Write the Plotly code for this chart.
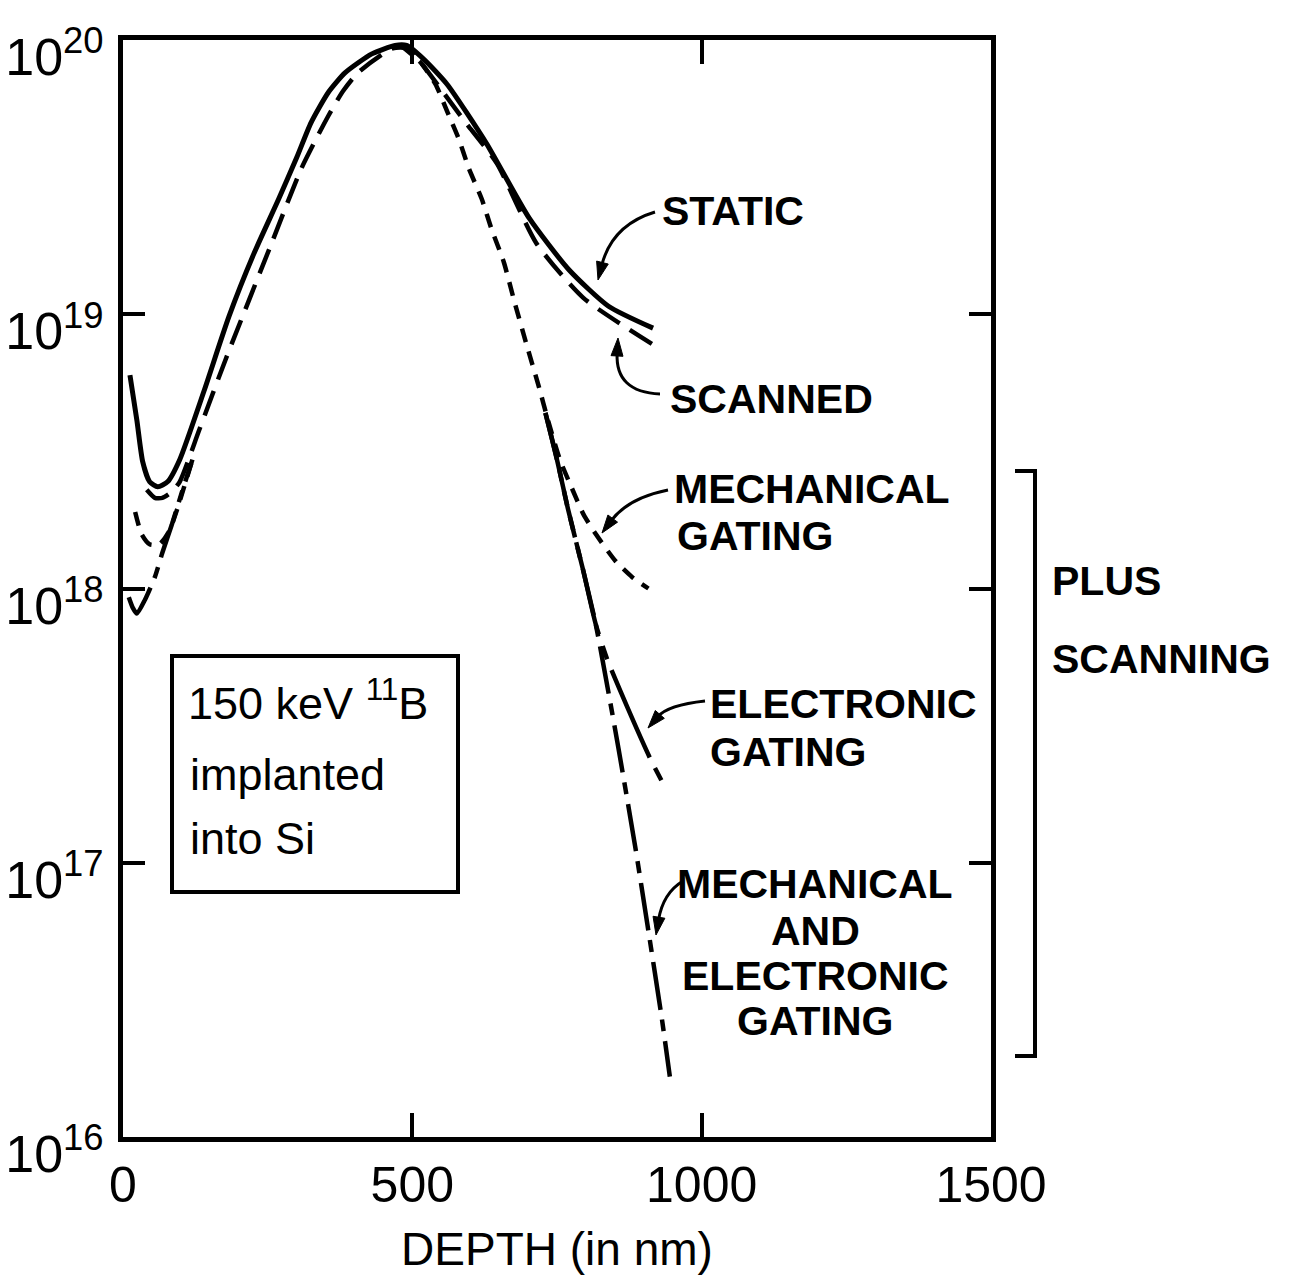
import math
import plotly.graph_objects as go

# Boron depth profiles (atoms/cm^3) for a 150 keV 11B implant into Si
static_depth = [12, 24, 34, 46, 60, 77, 98, 140, 183, 226, 269, 300, 325, 355, 384, 430, 470, 490, 520, 560, 628, 702,
                771, 839, 916]
static_conc = [6.0e18, 4.1e18, 2.9e18, 2.45e18, 2.35e18, 2.45e18, 2.95e18, 5.25e18, 9.8e18, 1.66e19, 2.63e19,
               3.72e19, 5.0e19, 6.45e19, 7.6e19, 8.9e19, 9.55e19, 9.55e19, 8.5e19, 6.9e19, 4.2e19, 2.24e19,
               1.45e19, 1.07e19, 8.9e18]

scanned_depth = [41, 55, 68, 83, 98, 132, 178, 257, 308, 354, 380, 406, 466, 491, 514, 589, 646, 714, 795, 914]
scanned_conc = [2.29e18, 2.14e18, 2.14e18, 2.24e18, 2.45e18, 3.8e18, 6.9e18, 1.82e19, 3.39e19, 5.25e19, 6.5e19,
                7.6e19, 9.33e19, 9.33e19, 8.3e19, 5.1e19, 3.55e19, 1.82e19, 1.15e19, 7.8e18]

# gated profiles: only the parts that separate from the scanned curve are drawn (None = hidden stretch)
mech_depth = [21, 32, 46, 63, 80, 92, 120, None,
              480, 514, 540, 560, 580, 598, 620, 637, 658, 676, 697, 717, 736, 755, 775, 796, 817, 851, 880, 908]
mech_conc = [1.9e18, 1.58e18, 1.45e18, 1.45e18, 1.62e18, 1.9e18, 2.95e18, None,
             9.55e19, 8.3e19, 6.9e19, 5.5e19, 4.37e19, 3.39e19, 2.63e19, 2.04e19, 1.55e19, 1.12e19, 7.8e18,
             5.6e18, 4.0e18, 2.95e18, 2.34e18, 1.86e18, 1.58e18, 1.26e18, 1.1e18, 1.0e18]

elec_depth = [730, 750, 769, 795, 817, 837, 873, 911, 933]
elec_conc = [4.37e18, 2.95e18, 1.95e18, 1.17e18, 7.4e17, 5.5e17, 3.63e17, 2.4e17, 1.95e17]

mech_elec_depth = [10, 17, 24, 38, 55, 68, 84, 103, 120, None,
                   730, 750, 769, 795, 817, 839, 856, 885, 906, 932, 945]
mech_elec_conc = [9.3e17, 8.5e17, 8.1e17, 9.1e17, 1.1e18, 1.35e18, 1.7e18, 2.29e18, 2.95e18, None,
                  4.37e18, 2.95e18, 1.95e18, 1.17e18, 7.4e17, 4.17e17, 2.63e17, 1.15e17, 6.0e16, 2.63e16, 1.66e16]

depth_ticks = [0, 500, 1000, 1500]
conc_ticks = [1e16, 1e17, 1e18, 1e19, 1e20]
conc_ticktext = ["10<sup>16</sup>", "10<sup>17</sup>", "10<sup>18</sup>", "10<sup>19</sup>", "10<sup>20</sup>"]

W, H = 1293, 1285
L, R, T, B = 123, 991, 40, 1137
FONT = "Liberation Sans, Arial, sans-serif"


def px(x):
    return (x - L) / (R - L)


def py(y):
    return (B - y) / (B - T)


fig = go.Figure()

curves = [
    (static_depth, static_conc, "solid", 5),
    (scanned_depth, scanned_conc, "26px,12px", 4.5),
    (mech_depth, mech_conc, "14px,10px", 4.5),
    (elec_depth, elec_conc, "95px,12px,14px,12px", 4.5),
    (mech_elec_depth, mech_elec_conc, "48px,10px,12px,10px", 4.5),
]
for xs, ys, dash, w in curves:
    fig.add_trace(go.Scatter(
        x=xs, y=ys, mode="lines", connectgaps=False,
        line=dict(color="black", width=w, dash=dash, shape="spline", smoothing=0.6),
        showlegend=False, hoverinfo="skip",
    ))

annotations = []
shapes = []

# curve labels
label_font = dict(family=FONT, size=41, color="black")
labels = [
    ("<b>STATIC</b>", 660, 211, "left"),
    ("<b>SCANNED</b>", 668, 399, "left"),
    ("<b>MECHANICAL</b>", 672, 489, "left"),
    ("<b>GATING</b>", 675, 536, "left"),
    ("<b>ELECTRONIC</b>", 708, 704, "left"),
    ("<b>GATING</b>", 708, 752, "left"),
    ("<b>MECHANICAL</b>", 815, 884, "center"),
    ("<b>AND</b>", 815, 931, "center"),
    ("<b>ELECTRONIC</b>", 815, 976, "center"),
    ("<b>GATING</b>", 815, 1021, "center"),
    ("<b>PLUS</b>", 1050, 581, "left"),
    ("<b>SCANNING</b>", 1050, 659, "left"),
]
for text, x, y, anchor in labels:
    annotations.append(dict(
        text=text, x=px(x), y=py(y), xref="paper", yref="paper",
        xanchor=anchor, yanchor="middle", showarrow=False, font=label_font,
    ))

# curved pointers from labels to curves: start, control point, tip (pixel positions)
pointers = [
    ((655, 212), (612, 225), (598, 280)),
    ((660, 394), (615, 392), (618, 338)),
    ((668, 490), (628, 498), (602, 533)),
    ((705, 701), (668, 705), (648, 728)),
    ((683, 881), (663, 893), (656, 935)),
]
HEAD_LEN, HEAD_HALF = 18, 6
for (sx, sy), (cx, cy), (tx, ty) in pointers:
    dx, dy = tx - cx, ty - cy
    n = math.hypot(dx, dy)
    ux, uy = dx / n, dy / n
    bx, by = tx - ux * HEAD_LEN, ty - uy * HEAD_LEN
    # shaft stops at the base of the head
    shapes.append(dict(
        type="path", xref="paper", yref="paper",
        path=f"M {px(sx)},{py(sy)} Q {px(cx)},{py(cy)} {px(bx + ux * 3)},{py(by + uy * 3)}",
        line=dict(color="black", width=3),
    ))
    p1 = (bx - uy * HEAD_HALF, by + ux * HEAD_HALF)
    p2 = (bx + uy * HEAD_HALF, by - ux * HEAD_HALF)
    shapes.append(dict(
        type="path", xref="paper", yref="paper",
        path=f"M {px(tx)},{py(ty)} L {px(p1[0])},{py(p1[1])} L {px(p2[0])},{py(p2[1])} Z",
        line=dict(color="black", width=1), fillcolor="black",
    ))

# bracket grouping the scanned + gated profiles
shapes.append(dict(
    type="path", xref="paper", yref="paper",
    path=f"M {px(1015)},{py(471)} L {px(1035)},{py(471)} L {px(1035)},{py(1056)} L {px(1015)},{py(1056)}",
    line=dict(color="black", width=4),
))

# inset box with implant conditions
shapes.append(dict(
    type="rect", xref="paper", yref="paper",
    x0=px(172), x1=px(458), y0=py(892), y1=py(656),
    line=dict(color="black", width=4), fillcolor="white", layer="above",
))
box_font = dict(family=FONT, size=45, color="black")
for text, x, y in [("150 keV <sup>11</sup>B", 186, 700), ("implanted", 188, 774), ("into Si", 188, 838)]:
    annotations.append(dict(
        text=text, x=px(x), y=py(y), xref="paper", yref="paper",
        xanchor="left", yanchor="middle", showarrow=False, font=box_font,
    ))

fig.update_layout(
    width=W, height=H,
    margin=dict(l=L, r=W - R, t=T, b=H - B, autoexpand=False),
    paper_bgcolor="white", plot_bgcolor="white",
    annotations=annotations, shapes=shapes,
    font=dict(family=FONT, color="black"),
)

fig.update_xaxes(
    range=[0, 1500], tickvals=depth_ticks, ticktext=[str(v) for v in depth_ticks],
    ticks="inside", ticklen=24, tickwidth=4, tickcolor="black",
    showline=True, linewidth=5, linecolor="black", mirror="ticks",
    showgrid=False, zeroline=False, automargin=False,
    tickfont=dict(family=FONT, size=50, color="black"),
    title=dict(text="DEPTH (in nm)", font=dict(family=FONT, size=46, color="black"), standoff=22),
)
fig.update_yaxes(
    type="log", range=[16, 20], tickvals=conc_ticks, ticktext=conc_ticktext,
    ticks="inside", ticklen=22, tickwidth=4, tickcolor="black",
    showline=True, linewidth=5, linecolor="black", mirror="ticks",
    showgrid=False, zeroline=False, automargin=False,
    tickfont=dict(family=FONT, size=52, color="black"),
    ticklabelshift=17, ticklabelstandoff=4,
)

fig.write_html("out.html")
